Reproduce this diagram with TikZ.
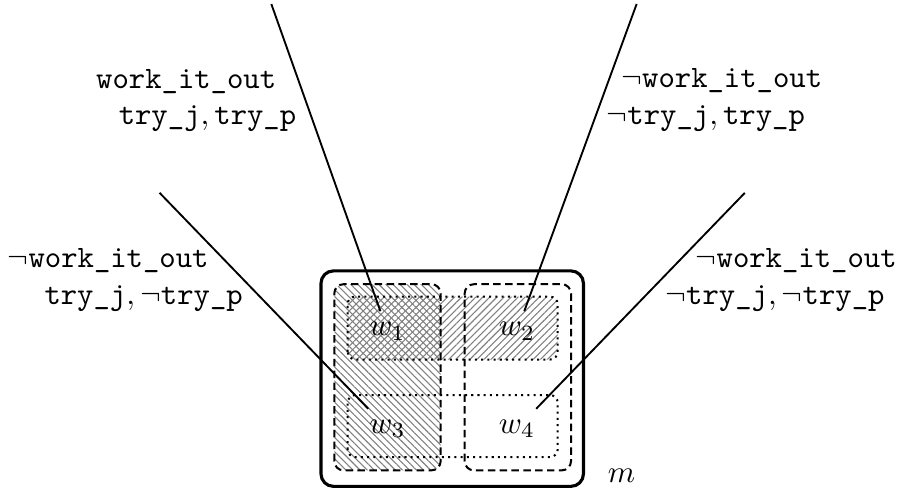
\documentclass[tikz,border=0pt]{standalone}
\usepackage{amsmath}
\usetikzlibrary{patterns.meta}

\begin{document}
\begin{tikzpicture}[
    world/.style={inner sep=3.3pt},
    modelbox/.style={line width=1pt, rounded corners=4pt},
    agentbox/.style={line width=0.65pt, dash pattern=on 2.4pt off 1.4pt, rounded corners=3pt},
    factbox/.style={line width=0.65pt, dash pattern=on 0.65pt off 1.35pt, rounded corners=2.5pt},
    conn/.style={line width=0.6pt},
    lbl/.style={inner sep=0pt, anchor=base}
  ]
        \useasboundingbox (0,0) rectangle (10.15,5.535);

        % Hatching of the two regions
        \fill[pattern={Lines[angle=-45,distance=1.6pt,line width=0.35pt]}, pattern color=gray, rounded corners=3pt] (3.77,0.23) rectangle (4.97,2.33);
        \fill[pattern={Lines[angle=45,distance=1.6pt,line width=0.35pt]}, pattern color=gray, rounded corners=2.5pt] (3.92,1.48) rectangle (6.29,2.19);

        % Draw the model and its boxes
        \draw[modelbox] (3.62,0.05) rectangle (6.58,2.48);
        \draw[agentbox] (3.77,0.23) rectangle (4.97,2.33);
        \draw[agentbox] (5.24,0.23) rectangle (6.44,2.33);
        \draw[factbox] (3.92,1.48) rectangle (6.29,2.19);
        \draw[factbox] (3.92,0.38) rectangle (6.29,1.08);

        % Worlds
        \node[world] (w1) at (4.37,1.80) {$w_1$};
        \node[world] (w2) at (5.83,1.80) {$w_2$};
        \node[world] (w3) at (4.37,0.70) {$w_3$};
        \node[world] (w4) at (5.83,0.70) {$w_4$};
        \node (m) at (7.01,0.17) {$m$};

        % Free ends of the lines
        \coordinate (e1) at (3.06,5.49);
        \coordinate (e2) at (7.18,5.49);
        \coordinate (e3) at (1.80,3.36);
        \coordinate (e4) at (8.40,3.36);

        \draw[conn] (e1) -- (w1);
        \draw[conn] (e2) -- (w2);
        \draw[conn] (e3) -- (w3);
        \draw[conn] (e4) -- (w4);

        % Valuations
        \node[lbl] (val1a) at (2.10,4.54) {$\texttt{work\_it\_out}$};
        \node[lbl] (val1b) at (2.34,4.13) {$\texttt{try\_j}, \texttt{try\_p}$};
        \node[lbl] (val2a) at (8.14,4.55) {$\neg\texttt{work\_it\_out}$};
        \node[lbl] (val2b) at (7.96,4.13) {$\neg\texttt{try\_j}, \texttt{try\_p}$};
        \node[lbl] (val3a) at (1.22,2.52) {$\neg\texttt{work\_it\_out}$};
        \node[lbl] (val3b) at (1.62,2.10) {$\texttt{try\_j}, \neg\texttt{try\_p}$};
        \node[lbl] (val4a) at (8.98,2.52) {$\neg\texttt{work\_it\_out}$};
        \node[lbl] (val4b) at (8.74,2.10) {$\neg\texttt{try\_j}, \neg\texttt{try\_p}$};
    \end{tikzpicture}
\end{document}
